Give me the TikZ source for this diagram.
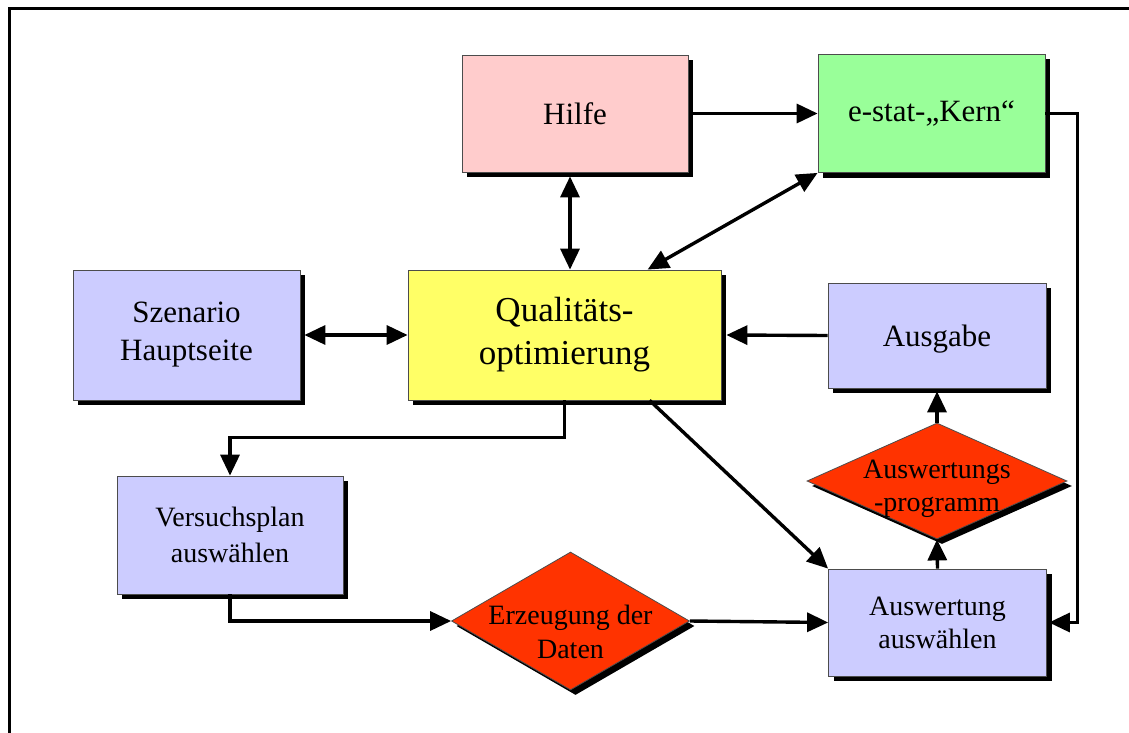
\documentclass[tikz,border=0pt]{standalone}
\usepackage{fontspec}
\setmainfont{Liberation Serif}
\usetikzlibrary{arrows.meta,shapes.geometric,shadows}
\definecolor{pinkbox}{HTML}{FFCCCC}
\definecolor{greenbox}{HTML}{99FF99}
\definecolor{yellowbox}{HTML}{FFFF66}
\definecolor{bluebox}{HTML}{CCCCFF}
\definecolor{redbox}{HTML}{FF3300}
\begin{document}
\begin{tikzpicture}[x=1pt,y=-1pt,
  box/.style={rectangle,draw=black!70,line width=0.8pt,inner sep=0pt,align=center,
    drop shadow={shadow xshift=5pt,shadow yshift=-5pt,fill=black,opacity=1}},
  dia/.style={diamond,draw=black!70,line width=0.8pt,inner sep=0pt,fill=redbox,
    drop shadow={shadow xshift=5pt,shadow yshift=-5pt,fill=black,opacity=1}},
  dtext/.style={align=center,inner sep=0pt,font=\fontsize{28}{34}\selectfont},
  big/.style={font=\fontsize{35}{43}\selectfont},
  mid/.style={font=\fontsize{31}{38}\selectfont},
  small/.style={font=\fontsize{28}{36}\selectfont},
  tip/.tip={Triangle[length=21pt,width=19pt]},
  conn/.style={line width=3.4pt,-tip},
  bi/.style={line width=3.4pt,tip-tip}]
\useasboundingbox (0,0) rectangle (1129,733);
\begin{scope}
\clip (0,0) rectangle (1129,733);
\draw[line width=3pt,black] (9,9) rectangle (1200,800);
\end{scope}

\node[box,fill=pinkbox,minimum width=226pt,minimum height=117pt,mid] (hilfe) at (575,113.5) {\raisebox{-11pt}[0pt][0pt]{Hilfe}};
\node[box,fill=greenbox,minimum width=227pt,minimum height=118pt,mid] (kern) at (931.5,113.5) {e-stat-„Kern“};
\node[box,fill=yellowbox,minimum width=313pt,minimum height=130pt,big] (qual) at (564.5,335) {Qualitäts-\\optimierung};
\node[box,fill=bluebox,minimum width=227pt,minimum height=130pt,mid] (szen) at (186.5,335) {Szenario\\Hauptseite};
\node[box,fill=bluebox,minimum width=218pt,minimum height=105pt,mid] (ausg) at (937,335.5) {\raisebox{-11pt}[0pt][0pt]{Ausgabe}};
\node[box,fill=bluebox,minimum width=226pt,minimum height=118pt,small] (vers) at (230,535) {Versuchsplan\\auswählen};
\node[box,fill=bluebox,minimum width=218pt,minimum height=107pt,font=\fontsize{28}{33}\selectfont] (ausw) at (937.5,622.5) {Auswertung\\auswählen};
\node[dia,minimum width=238pt,minimum height=138pt] (erz) at (570.5,621) {};
\node[dtext] (erzt) at (570.5,632) {Erzeugung der\\Daten};
\node[dia,minimum width=260pt,minimum height=116pt] (ausd) at (937,481) {};
\node[dtext,font=\fontsize{28}{33}\selectfont] (ausdt) at (937,489) {Auswertungs\\-programm};

\draw[conn] ([xshift=5pt]hilfe.east) -- (kern.west);
\draw[bi] ([xshift=-5pt,yshift=-4pt]hilfe.south) -- ([xshift=-5pt]hilfe.south |- qual.north);
\draw[bi] (kern.south west) -- ([xshift=240pt]qual.north west);
\draw[bi] ([xshift=4pt]szen.east) -- (qual.west);
\draw[conn] (ausg.west) -- ([xshift=5pt]qual.east);
\draw[conn] (qual.south) -- ([yshift=-37pt]qual.south) -| (vers.north);
\draw[conn] ([xshift=242pt]qual.south west) -- (ausw.north west);
\draw[conn] (vers.south) |- (erz.west);
\draw[conn] (erz.east) -- (ausw.west);
\draw[conn] (ausw.north) -- (ausd.south);
\draw[conn] (ausd.north) -- ([yshift=-3pt]ausg.south);
\draw[conn] (kern.east) -- ([xshift=32pt]kern.east) |- ([xshift=2pt]ausw.east);
\end{tikzpicture}
\end{document}
